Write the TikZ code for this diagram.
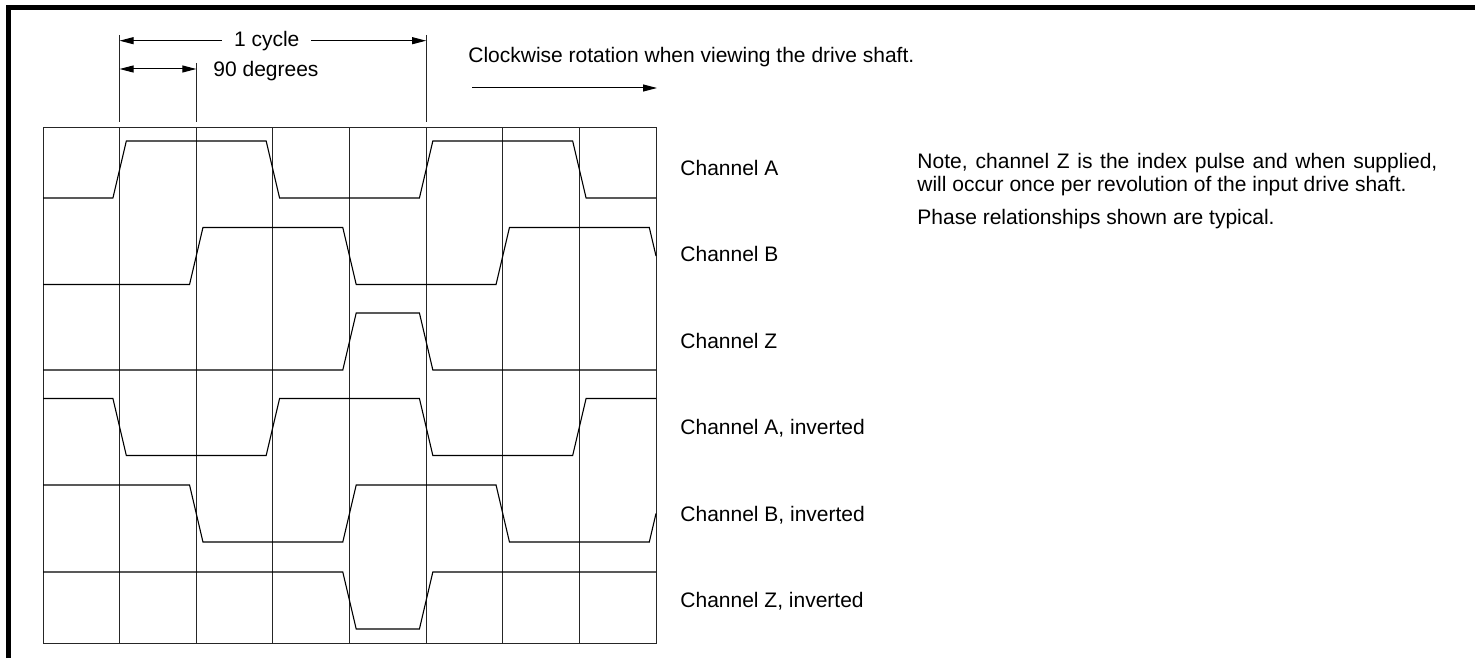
\documentclass[tikz,border=0pt]{standalone}
\usepackage{fontspec}
\setmainfont{Liberation Sans}
\usetikzlibrary{arrows.meta}

\begin{document}
\begin{tikzpicture}[x=0.5pt,y=-0.5pt,
  font=\fontsize{10.5}{12}\selectfont,
  outerframe/.style={line width=2.5pt, line join=miter},
  gridline/.style={line width=0.5pt, black!85},
  extline/.style={line width=0.5pt, black!85},
  signal/.style={line width=0.55pt, line join=miter},
  dimline/.style={line width=0.5pt,
    {Triangle[length=7pt,width=3.5pt]}-{Triangle[length=7pt,width=3.5pt]}},
  rotarrow/.style={line width=0.5pt, -{Triangle[length=7pt,width=3.5pt]}},
  chlabel/.style={anchor=base west, inner sep=0pt}]
\def\colw{76.625}

\useasboundingbox (0,0) rectangle (1475,658);

% frame, top and left side only
\draw[outerframe] (8,658) -- (8,7.5) -- (1475,7.5);

% grid
\draw[gridline] (43,127) rectangle (656,643);
\foreach \k in {1,...,7} {
  \draw[gridline] ({43+\k*\colw},127) -- ({43+\k*\colw},643);
}

% dimensions
\coordinate (cyc0) at (119.6,40.7);
\coordinate (cyc1) at (426.1,40.7);
\coordinate (deg0) at (119.6,69);
\coordinate (deg1) at (196.3,69);
\draw[extline] (119.6,35) -- (119.6,122);
\draw[extline] (196.3,63) -- (196.3,122);
\draw[extline] (426.1,35) -- (426.1,122);
\draw[dimline] (cyc0) -- node[pos=0.48, fill=white, inner xsep=6pt, inner ysep=0pt] (cyc) {1 cycle} (cyc1);
\draw[dimline] (deg0) -- (deg1);
\node[chlabel] (deg) at (213,76) {90 degrees};

% direction of rotation
\node[chlabel] (rot) at (468,62) {Clockwise rotation when viewing the drive shaft.};
\coordinate (rot0) at (472,88);
\coordinate (rot1) at (657,88);
\draw[rotarrow] (rot0) -- (rot1);

% waveforms
\begin{scope}[shift={(43,0)}, x=38.3125pt]
\def\e{0.0875}
% channel A
\def\hi{141}\def\lo{198}
\draw[signal] (0,\lo) \foreach \k/\a/\b in {1/\lo/\hi,3/\hi/\lo,5/\lo/\hi,7/\hi/\lo} {
  -- ({\k-\e},\a) -- ({\k+\e},\b) } -- (8,\lo);
% channel B
\def\hi{227.5}\def\lo{284.5}
\draw[signal] (0,\lo) \foreach \k/\a/\b in {2/\lo/\hi,4/\hi/\lo,6/\lo/\hi} {
  -- ({\k-\e},\a) -- ({\k+\e},\b) } -- ({8-\e},\hi) -- (8,{\hi+28.5});
% channel Z
\def\hi{313}\def\lo{370}
\draw[signal] (0,\lo) \foreach \k/\a/\b in {4/\lo/\hi,5/\hi/\lo} {
  -- ({\k-\e},\a) -- ({\k+\e},\b) } -- (8,\lo);
% channel A, inverted
\def\hi{398.5}\def\lo{455.5}
\draw[signal] (0,\hi) \foreach \k/\a/\b in {1/\hi/\lo,3/\lo/\hi,5/\hi/\lo,7/\lo/\hi} {
  -- ({\k-\e},\a) -- ({\k+\e},\b) } -- (8,\hi);
% channel B, inverted
\def\hi{485}\def\lo{542}
\draw[signal] (0,\hi) \foreach \k/\a/\b in {2/\hi/\lo,4/\lo/\hi,6/\hi/\lo} {
  -- ({\k-\e},\a) -- ({\k+\e},\b) } -- ({8-\e},\lo) -- (8,{\lo-28.5});
% channel Z, inverted
\def\hi{572}\def\lo{629}
\draw[signal] (0,\hi) \foreach \k/\a/\b in {4/\hi/\lo,5/\lo/\hi} {
  -- ({\k-\e},\a) -- ({\k+\e},\b) } -- (8,\hi);
\end{scope}

% channel names
\node[chlabel] (chA) at (680,175) {Channel A};
\node[chlabel] (chB) at (680,261) {Channel B};
\node[chlabel] (chZ) at (680,348) {Channel Z};
\node[chlabel] (chAi) at (680,434) {Channel A, inverted};
\node[chlabel] (chBi) at (680,521) {Channel B, inverted};
\node[chlabel] (chZi) at (680,607) {Channel Z, inverted};

% notes
\node[chlabel] (note1) at (917,168)
  {\makebox[260pt][s]{Note, channel Z is the index pulse and when supplied,}};
\node[chlabel] (note2) at (917,191)
  {will occur once per revolution of the input drive shaft.};
\node[chlabel] (phase) at (917,224) {Phase relationships shown are typical.};
\end{tikzpicture}
\end{document}
